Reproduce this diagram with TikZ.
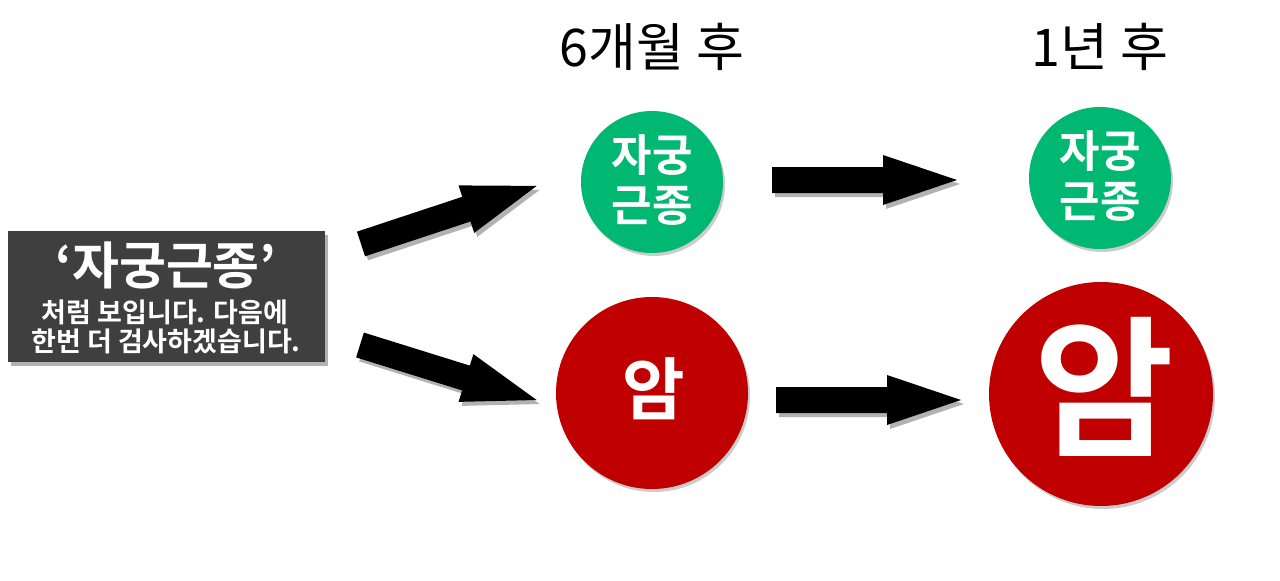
\documentclass[tikz,border=0pt]{standalone}
\usepackage{fontspec}
\setmainfont{Noto Sans CJK KR}[BoldFont={Noto Sans CJK KR Bold}]
\usetikzlibrary{shadows}
\definecolor{boxgray}{HTML}{3F3F3F}
\definecolor{mygreen}{HTML}{00B872}
\definecolor{myred}{HTML}{C00000}
\tikzset{
  myshadow/.style={drop shadow={shadow xshift=3pt,shadow yshift=-4pt,opacity=0.3,fill=black}},
  circshadow/.style={drop shadow={shadow xshift=2pt,shadow yshift=-3pt,opacity=0.2,fill=black}},
  greencirc/.style={circle,fill=mygreen,minimum size=142pt,inner sep=0pt,circshadow},
  redcirc/.style={circle,fill=myred,inner sep=0pt,circshadow},
  whitetxt/.style={text=white,font=\bfseries,inner sep=0pt,align=center},
  headtxt/.style={text=black,font=\fontsize{52}{60}\selectfont,inner sep=0pt},
  pics/blockarrow/.style={code={
    \fill[black,myshadow] (0,-13) -- (111,-13) -- (111,-25) -- (185,0) -- (111,25) -- (111,13) -- (0,13) -- cycle;}}
}
\begin{document}
\begin{tikzpicture}[x=1pt,y=-1pt]
\useasboundingbox (0,0) rectangle (1280,581);
\fill[white] (0,0) rectangle (1280,581);
% left box
\node[fill=boxgray,minimum width=317pt,minimum height=131pt,inner sep=0pt,myshadow] (box) at (166.5,296.5) {};
\node[whitetxt,font=\bfseries\fontsize{51}{60}\selectfont] (t1) at (166,265) {‘자궁근종’};
\node[whitetxt,font=\bfseries\fontsize{27}{30}\selectfont] (t2) at (165,312) {처럼 보입니다. 다음에};
\node[whitetxt,font=\bfseries\fontsize{27}{30}\selectfont] (t3) at (166,341) {한번 더 검사하겠습니다.};
% headings
\node[headtxt] (h1) at (652,47) {6개월 후};
\node[headtxt] (h2) at (1100,47) {1년 후};
% circles
\node[greencirc] (g1) at (652,182) {};
\node[whitetxt,font=\bfseries\fontsize{44}{50}\selectfont] (g1t) at ([yshift=2pt]g1.center) {자궁\\근종};
\node[greencirc] (g2) at (1100,178) {};
\node[whitetxt,font=\bfseries\fontsize{44}{50}\selectfont] (g2t) at ([yshift=2pt]g2.center) {자궁\\근종};
\node[redcirc,minimum size=192pt] (r1) at (652,393) {};
\node[whitetxt,font=\bfseries\fontsize{68}{70}\selectfont] (r1t) at (654,389) {암};
\node[redcirc,minimum size=224pt] (r2) at (1101,394) {};
\node[whitetxt,font=\bfseries\fontsize{152}{160}\selectfont] (r2t) at (1104,387) {암};
% arrows
\coordinate (a1) at (361,244);
\coordinate (a2) at (360,345);
\coordinate (a3) at (772,180);
\coordinate (a4) at (776,400);
\pic[rotate=18.3] at (a1) {blockarrow};
\pic[rotate=-17.3] at (a2) {blockarrow};
\pic at (a3) {blockarrow};
\pic at (a4) {blockarrow};
\end{tikzpicture}
\end{document}
